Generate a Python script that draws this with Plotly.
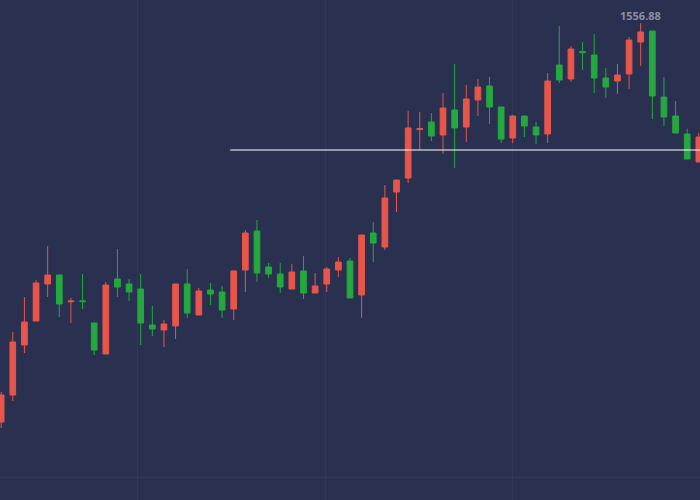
import plotly.graph_objects as go

# OHLC values
opens = [1357.4, 1370.9, 1395.9, 1407.9, 1426.4, 1430.9, 1417.5, 1418.0, 1406.9, 1391.4,
         1428.9, 1426.4, 1423.9, 1405.9, 1403.4, 1405.4, 1426.4, 1410.9, 1423.4, 1422.4,
         1413.9, 1433.4, 1452.9, 1434.9, 1431.4, 1423.9, 1432.9, 1421.9, 1426.4, 1433.4,
         1437.9, 1420.9, 1451.9, 1444.9, 1472.4, 1479.4, 1503.6, 1507.4, 1500.9, 1513.4,
         1504.9, 1518.4, 1525.4, 1514.9, 1499.4, 1510.4, 1504.9, 1501.4, 1535.9, 1528.9,
         1542.6, 1540.9, 1529.4, 1527.9, 1531.4, 1547.4, 1552.9, 1519.9, 1510.4, 1501.4,
         1487.4]
highs = [1372.4, 1402.4, 1419.9, 1428.4, 1445.4, 1430.9, 1419.4, 1431.4, 1406.9, 1427.4,
         1443.9, 1428.9, 1431.4, 1415.4, 1408.4, 1426.4, 1433.9, 1424.4, 1426.9, 1425.4,
         1433.4, 1453.4, 1458.4, 1436.9, 1436.9, 1436.4, 1440.4, 1431.9, 1434.9, 1439.9,
         1439.4, 1450.9, 1457.4, 1475.9, 1478.4, 1512.9, 1512.4, 1511.9, 1521.9, 1536.4,
         1525.9, 1528.9, 1529.9, 1514.9, 1510.9, 1510.4, 1507.4, 1531.9, 1555.4, 1545.4,
         1547.4, 1551.4, 1534.4, 1536.4, 1549.9, 1556.88, 1552.9, 1529.9, 1517.9, 1503.9,
         1501.9]
lows = [1354.4, 1367.9, 1391.9, 1407.9, 1419.9, 1409.9, 1406.9, 1413.9, 1390.9, 1391.4,
        1419.9, 1417.9, 1395.9, 1400.4, 1394.9, 1398.9, 1409.4, 1410.9, 1415.9, 1409.4,
        1408.4, 1422.4, 1427.4, 1429.4, 1421.9, 1423.9, 1418.9, 1421.9, 1422.4, 1429.9,
        1419.4, 1409.4, 1437.4, 1443.4, 1462.4, 1476.9, 1493.4, 1497.9, 1491.4, 1484.4,
        1497.4, 1510.4, 1506.4, 1496.9, 1496.9, 1499.9, 1496.4, 1496.9, 1526.9, 1527.4,
        1533.4, 1521.9, 1519.4, 1521.4, 1523.9, 1535.4, 1508.9, 1505.4, 1501.9, 1488.9,
        1487.4]
closes = [1370.9, 1397.4, 1407.4, 1426.9, 1430.9, 1416.4, 1417.9, 1417.6, 1393.4, 1425.9,
          1424.9, 1422.4, 1406.9, 1403.9, 1406.4, 1426.4, 1411.9, 1422.9, 1421.4, 1413.4,
          1432.9, 1451.9, 1431.9, 1431.4, 1424.9, 1432.4, 1421.9, 1425.4, 1433.9, 1437.4,
          1419.4, 1450.9, 1446.9, 1469.4, 1478.4, 1504.4, 1504.1, 1500.4, 1514.4, 1504.4,
          1518.9, 1524.9, 1514.9, 1498.9, 1510.4, 1505.4, 1500.9, 1527.9, 1528.4, 1543.9,
          1542.1, 1529.4, 1524.9, 1530.9, 1548.4, 1552.4, 1520.4, 1509.9, 1501.9, 1488.9,
          1499.9]
idx = list(range(len(opens)))

level_price = 1493.4
level_start = 19.7
peak_idx = 55
peak_label = "1556.88"

BG = '#293050'
GRID = '#313a5a'

fig = go.Figure()

fig.add_trace(go.Candlestick(
    x=idx, open=opens, high=highs, low=lows, close=closes,
    increasing=dict(line=dict(color='#e8554a', width=1), fillcolor='#e8554a'),
    decreasing=dict(line=dict(color='#24a83f', width=1), fillcolor='#24a83f'),
    whiskerwidth=0,
    showlegend=False,
))

# 水平线
fig.add_trace(go.Scatter(
    x=[level_start, idx[-1] + 1], y=[level_price, level_price],
    mode='lines', line=dict(color='#ffffff', width=1),
    showlegend=False, hoverinfo='skip',
))

fig.add_annotation(
    x=peak_idx, y=highs[peak_idx], text="<b>" + peak_label + "</b>", showarrow=False,
    yshift=8, font=dict(color='#8a8fa3', size=11, family='Open Sans'),
)

fig.update_layout(
    width=700, height=500,
    margin=dict(l=0, r=0, t=0, b=0),
    paper_bgcolor=BG, plot_bgcolor=BG,
    xaxis=dict(range=[-0.1, 60.1], rangeslider_visible=False,
               tickvals=[11.7, 27.85, 44.0], showticklabels=False,
               gridcolor=GRID, zeroline=False, showline=False),
    yaxis=dict(range=[1318.4, 1568.4], tickvals=[1329.9], showticklabels=False,
               gridcolor=GRID, zeroline=False, showline=False),
)

fig.write_html("out.html", config={'displayModeBar': False},
               post_script="document.body.style.margin='0';document.body.style.background='" + BG + "';")
